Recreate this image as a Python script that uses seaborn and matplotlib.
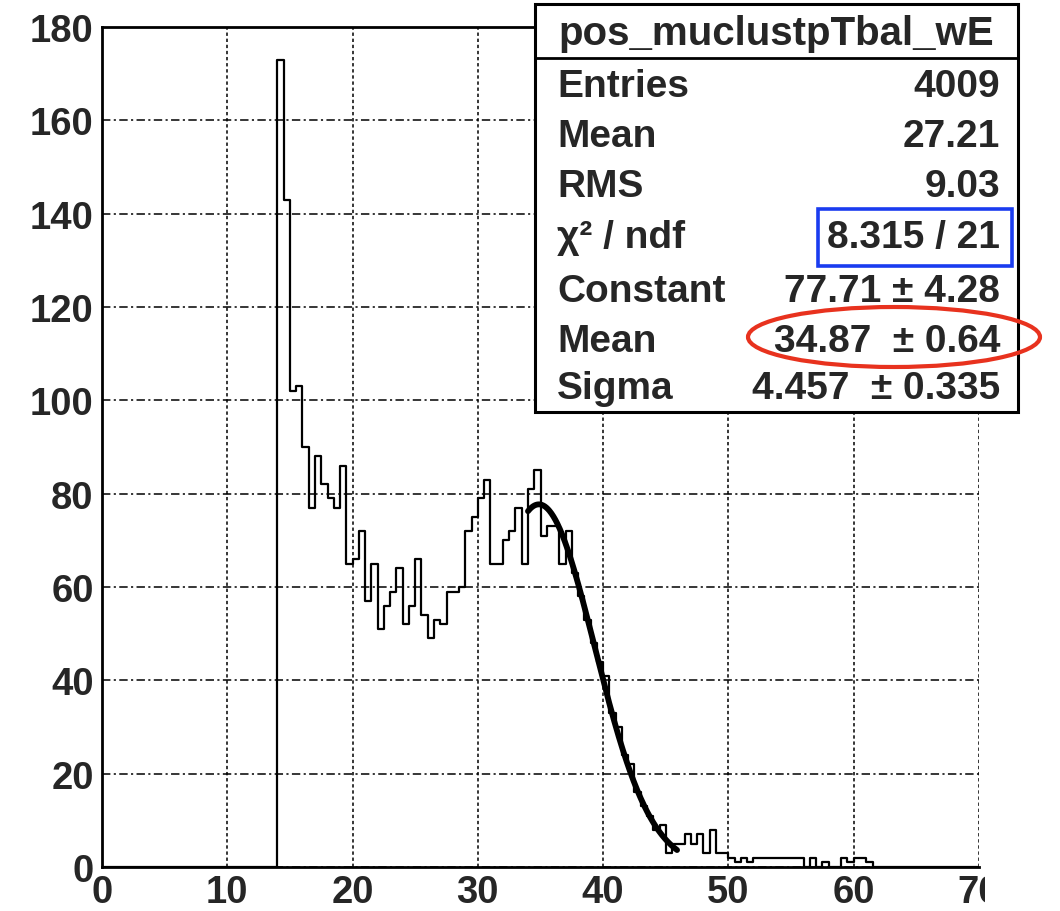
import numpy as np
import pandas as pd
import matplotlib
matplotlib.use("Agg")
import matplotlib.pyplot as plt
import seaborn as sns
from matplotlib.patches import Rectangle, Ellipse
from matplotlib.ticker import MultipleLocator

# histogram pos_muclustpTbal_wE, 0.5 wide bins, first filled bin at 14.0
bin_width = 0.5
first_bin = 14.0
counts = [173, 143, 102, 103, 90, 77, 88, 82, 79, 77, 86, 65,   # 14.0 - 19.5
          66, 72, 57, 65, 51, 56, 59, 64, 52, 56, 66, 54,        # 20.0 - 25.5
          49, 53, 52, 59, 59, 60, 72, 75, 79, 83, 65, 65,        # 26.0 - 31.5
          70, 72, 77, 65, 81, 85, 71, 73, 73, 65, 72, 63,        # 32.0 - 37.5
          58, 53, 48, 44, 41, 33, 30, 24, 22, 16, 13, 11,        # 38.0 - 43.5
          8, 9, 3, 5, 5, 7, 5, 7, 3, 8, 3, 3,                    # 44.0 - 49.5
          2, 1, 2, 1, 2, 2, 2, 2, 2, 2, 2, 2,                    # 50.0 - 55.5
          0, 2, 0, 1, 0, 0, 2, 1, 2, 2, 1, 0]                    # 56.0 - 61.5

# gaussian fit
fit_const, fit_mean, fit_sigma = 77.71, 34.87, 4.457
fit_lo, fit_hi = 34.0, 45.9

title = "pos_muclustpTbal_wE"
stat_labels = ["Entries", "Mean", "RMS", "\u03c7\u00b2 / ndf", "Constant", "Mean", "Sigma"]
stat_values = ["4009", "27.21", "9.03", "8.315 / 21",
               "77.71 \u00b1 4.28", "34.87  \u00b1 0.64", "4.457  \u00b1 0.335"]

W, H = 1060, 912


def fx(px):
    return px / W


def fy(py):
    return 1 - py / H


sns.set_style("white")
plt.rcParams['font.family'] = ['Liberation Sans', 'DejaVu Sans']
plt.rcParams['font.weight'] = 'bold'

edges = np.arange(0, 70 + bin_width, bin_width)
centers = edges[:-1] + bin_width / 2
weights = np.zeros(len(centers))
start = int(round(first_bin / bin_width))
weights[start:start + len(counts)] = counts
df = pd.DataFrame({"x": centers, "n": weights})

fig = plt.figure(figsize=(W / 100, H / 100), dpi=100)
ax = fig.add_axes([fx(102), fy(868), fx(979) - fx(102), fy(28) - fy(868)])

sns.histplot(data=df, x="x", weights="n", binwidth=bin_width, binrange=(0, 70),
             element="step", fill=False, color="black", linewidth=1.6, ax=ax)

xf = np.linspace(fit_lo, fit_hi, 300)
yf = fit_const * np.exp(-0.5 * ((xf - fit_mean) / fit_sigma) ** 2)
sns.lineplot(x=xf, y=yf, color="black", linewidth=4.2, ax=ax)

ax.set_xlim(0, 70)
ax.set_ylim(0, 180)
ax.set_xlabel("")
ax.set_ylabel("")
ax.xaxis.set_major_locator(MultipleLocator(10))
ax.xaxis.set_minor_locator(MultipleLocator(2))
ax.yaxis.set_major_locator(MultipleLocator(20))
ax.yaxis.set_minor_locator(MultipleLocator(5))

ax.xaxis.grid(True, which="major", color="black", linewidth=1.1,
              linestyle=(0, (2.2, 1.8)))
ax.yaxis.grid(True, which="major", color="black", linewidth=1.1,
              linestyle=(0, (5.5, 2.2, 1.4, 2.2)))
ax.set_axisbelow(True)

for side in ["left", "bottom", "top"]:
    ax.spines[side].set_color("black")
    ax.spines[side].set_linewidth(2.0)
ax.spines["right"].set_visible(False)

ax.tick_params(which="both", direction="in", color="black", width=1.1,
               top=False, right=False, labelsize=27.5)
ax.tick_params(axis="x", which="major", length=21, pad=5)
ax.tick_params(axis="x", which="minor", length=11)
ax.tick_params(axis="y", which="major", length=29, pad=6)
ax.tick_params(axis="y", which="minor", length=14)

# the source picture is cut just right of the "7" of 70
fig.add_artist(Rectangle((fx(985), 0), 1 - fx(985), fy(418),
                         transform=fig.transFigure, facecolor="white",
                         edgecolor="none", zorder=4))

# stats box
fig.add_artist(Rectangle((fx(535), fy(413)), fx(1018) - fx(535), fy(5) - fy(413),
                         transform=fig.transFigure, facecolor="white",
                         edgecolor="black", linewidth=2.2, zorder=5))
fig.add_artist(plt.Line2D([fx(535), fx(1018)], [fy(59), fy(59)],
                          transform=fig.transFigure, color="black",
                          linewidth=2.0, zorder=6))
fig.text(fx(776), fy(45), title, ha="center", va="baseline",
         fontsize=29, fontweight="bold", zorder=7)

baselines = [97, 147, 197, 248, 302, 352, 399]
for lab, val, b in zip(stat_labels, stat_values, baselines):
    fig.text(fx(557), fy(b), lab, ha="left", va="baseline",
             fontsize=28, fontweight="bold", zorder=7)
    fig.text(fx(1000), fy(b), val, ha="right", va="baseline",
             fontsize=28, fontweight="bold", zorder=7)

# highlights
fig.add_artist(Rectangle((fx(818), fy(267)), fx(1012) - fx(818), fy(210) - fy(267),
                         transform=fig.transFigure, facecolor="none",
                         edgecolor="#1a3cf0", linewidth=2.6, zorder=8))
fig.add_artist(Ellipse((fx(894), fy(338)), fx(292), 60 / H,
                       transform=fig.transFigure, facecolor="none",
                       edgecolor="#e8321e", linewidth=3.0, zorder=8))

fig.savefig("out.png", dpi=100)
